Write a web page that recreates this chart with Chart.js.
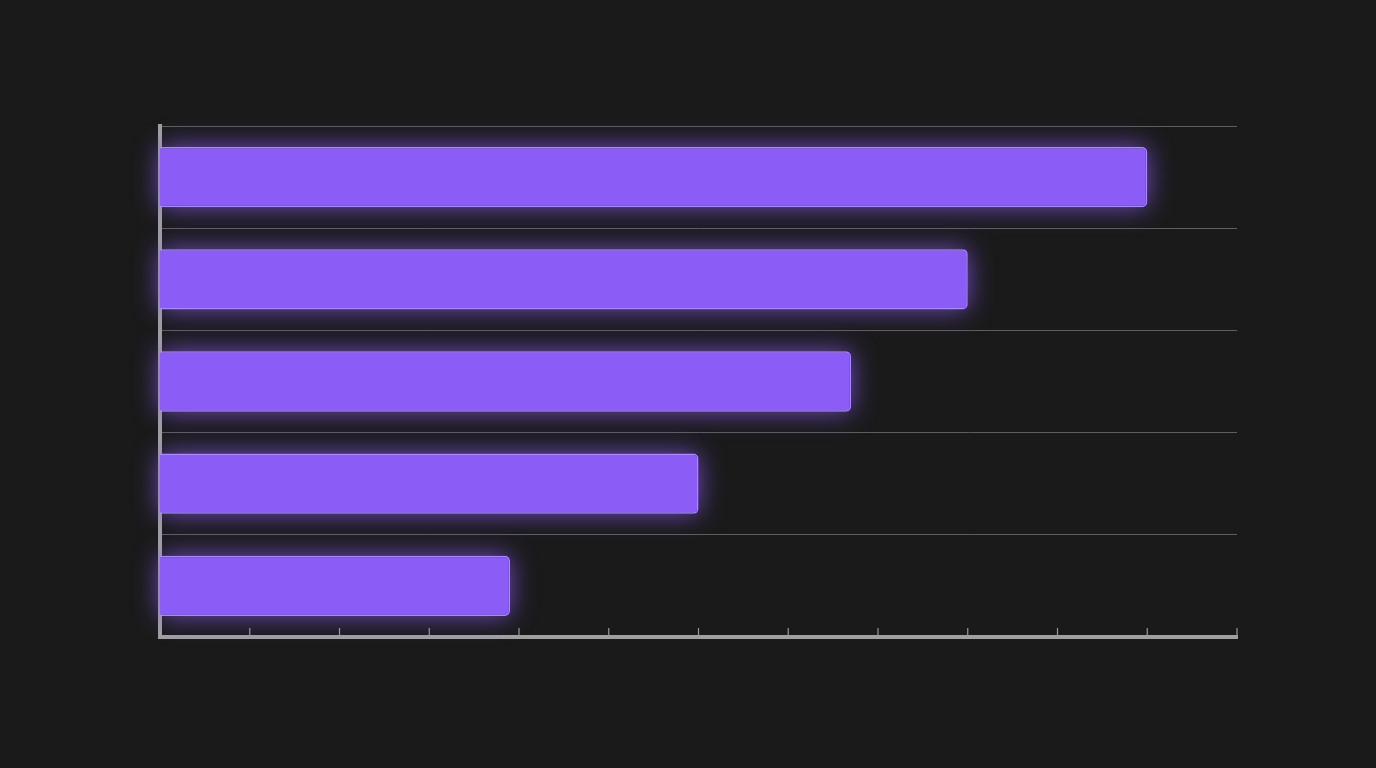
<!DOCTYPE html>
<html>
<head>
<meta charset="utf-8">
<script src="https://cdn.jsdelivr.net/npm/chart.js@4/dist/chart.umd.min.js"></script>
<style>
  html, body { margin: 0; padding: 0; background: #1a1a1a; }
  #wrap { width: 1376px; height: 768px; }
</style>
</head>
<body>
<div id="wrap"><canvas id="barChart"></canvas></div>
<script>
const categories = ['A', 'B', 'C', 'D', 'E'];
const values = [11, 9, 7.7, 6, 3.9];
const xTicks = [0, 1, 2, 3, 4, 5, 6, 7, 8, 9, 10, 11, 12];

// soft purple glow behind the bars (bar element clips its own shadow, so paint it first)
const glowPlugin = {
    id: 'glow',
    beforeDatasetsDraw(chart) {
        const ctx = chart.ctx;
        const meta = chart.getDatasetMeta(0);
        ctx.save();
        ctx.shadowColor = 'rgba(139, 92, 246, 0.85)';
        ctx.shadowBlur = 26;
        ctx.fillStyle = 'rgba(60, 40, 110, 0.9)';
        meta.data.forEach(bar => {
            const p = bar.getProps(['x', 'y', 'base', 'height'], true);
            const left = Math.min(p.base, p.x);
            const w = Math.abs(p.x - p.base);
            ctx.beginPath();
            ctx.roundRect(left, p.y - p.height / 2, w, p.height, 5);
            ctx.fill();
        });
        ctx.restore();
    }
};

// tick marks point up into the plot, not down
const innerTicksPlugin = {
    id: 'innerTicks',
    afterDraw(chart) {
        const ctx = chart.ctx;
        const x = chart.scales.x;
        const bottom = chart.chartArea.bottom;
        ctx.save();
        ctx.strokeStyle = '#9a9a9a';
        ctx.lineWidth = 1.2;
        xTicks.forEach(v => {
            if (v === 0) return;
            const px = x.getPixelForValue(v);
            ctx.beginPath();
            ctx.moveTo(px, bottom - 9);
            ctx.lineTo(px, bottom);
            ctx.stroke();
        });
        ctx.restore();
    }
};

const ctx = document.getElementById('barChart').getContext('2d');
const barChart = new Chart(ctx, {
    type: 'bar',
    data: {
        labels: categories,
        datasets: [{
            data: values,
            backgroundColor: '#8b5cf6',
            borderColor: '#a78bfa',
            borderWidth: 1.5,
            borderRadius: 5,
            borderSkipped: 'start',
            categoryPercentage: 1,
            barPercentage: 0.59
        }]
    },
    options: {
        indexAxis: 'y',
        responsive: true,
        maintainAspectRatio: false,
        animation: false,
        layout: {
            padding: { left: 160, top: 126, right: 139, bottom: 131 }
        },
        plugins: {
            legend: { display: false },
            tooltip: { enabled: false }
        },
        scales: {
            x: {
                min: 0,
                max: 12,
                ticks: { display: false, stepSize: 1 },
                grid: { display: false, drawTicks: false },
                border: { display: true, color: '#a0a0a0', width: 4 }
            },
            y: {
                ticks: { display: false },
                grid: {
                    display: true,
                    color: '#5e5e5e',
                    lineWidth: 1,
                    drawTicks: false,
                    offset: true
                },
                border: { display: true, color: '#a0a0a0', width: 4 }
            }
        }
    },
    plugins: [glowPlugin, innerTicksPlugin]
});
</script>
</body>
</html>
